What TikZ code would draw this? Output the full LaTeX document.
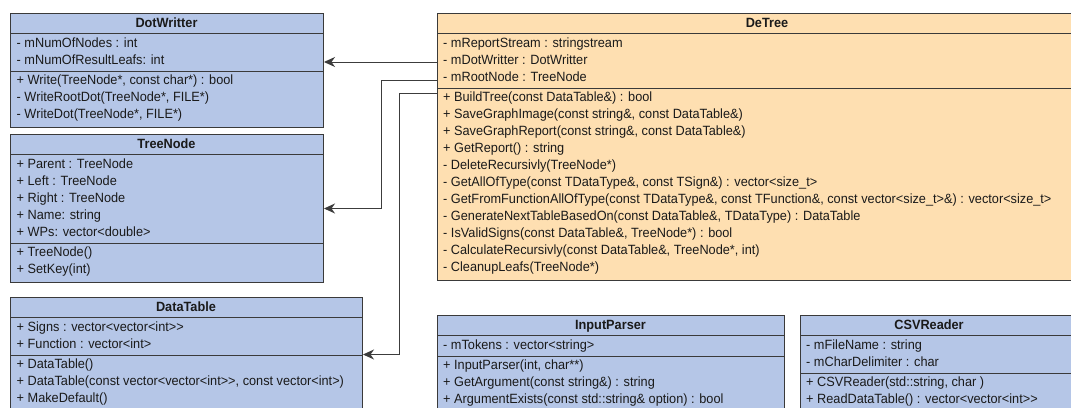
\documentclass[tikz,border=0pt]{standalone}
\usepackage{fontspec}
\setmainfont[FakeStretch=0.95]{Liberation Sans}
\usetikzlibrary{arrows.meta}
\definecolor{clsblue}{HTML}{B5C6E7}
\definecolor{clsorange}{HTML}{FEDFB1}
\definecolor{edge}{HTML}{3A3A3A}
\definecolor{txt}{HTML}{1A1A1A}
\definecolor{conn}{HTML}{3C3C3C}
\tikzset{
  box/.style={draw=edge, line width=1pt, rectangle, inner sep=0pt, anchor=north west},
  bluebox/.style={box, fill=clsblue},
  orangebox/.style={box, fill=clsorange},
  sepline/.style={draw=edge, line width=1pt},
  ttl/.style={inner sep=0pt, anchor=base, text=txt, font=\fontsize{13.4}{16}\selectfont\bfseries},
  row/.style={inner sep=0pt, anchor=base west, text=txt, font=\fontsize{13.4}{16}\selectfont},
  assoc/.style={draw=conn, line width=1pt, -{Stealth[length=11pt,width=10pt,inset=3.5pt]}}
}
\begin{document}
\begin{tikzpicture}[x=1pt,y=-1pt]
\useasboundingbox (0,0) rectangle (1071,407);
\clip (0,0) rectangle (1071,407);
\fill[white] (0,0) rectangle (1071,407);

% ---------- DotWritter ----------
\node[bluebox, minimum width=313pt, minimum height=114pt] (dotw) at (10,13) {};
\draw[sepline] (10,33) -- (323,33);
\draw[sepline] (10,71) -- (323,71);
\node[ttl] (dotwT) at (166.5,27.8) {DotWritter};
\node[row] (dwA1) at (16.5,47.8) {- mNumOfNodes : int};
\node[row] (dwA2) at (16.5,64.8) {- mNumOfResultLeafs: int};
\node[row] (dwM1) at (16.5,84.8) {+ Write(TreeNode*, const char*) : bool};
\node[row] (dwM2) at (16.5,101.8) {- WriteRootDot(TreeNode*, FILE*)};
\node[row] (dwM3) at (16.5,118.8) {- WriteDot(TreeNode*, FILE*)};

% ---------- TreeNode ----------
\node[bluebox, minimum width=313pt, minimum height=148pt] (tnode) at (10,134) {};
\draw[sepline] (10,154) -- (323,154);
\draw[sepline] (10,243) -- (323,243);
\node[ttl] (tnodeT) at (166.5,148.8) {TreeNode};
\node[row] (tnA1) at (16.5,168.8) {+ Parent : TreeNode};
\node[row] (tnA2) at (16.5,185.8) {+ Left : TreeNode};
\node[row] (tnA3) at (16.5,202.8) {+ Right : TreeNode};
\node[row] (tnA4) at (16.5,219.8) {+ Name: string};
\node[row] (tnA5) at (16.5,236.8) {+ WPs: vector<double>};
\node[row] (tnM1) at (16.5,256.8) {+ TreeNode()};
\node[row] (tnM2) at (16.5,273.8) {+ SetKey(int)};

% ---------- DataTable ----------
\node[bluebox, minimum width=352pt, minimum height=114pt] (dtab) at (10,297) {};
\draw[sepline] (10,317) -- (362,317);
\draw[sepline] (10,355) -- (362,355);
\node[ttl] (dtabT) at (186,311.8) {DataTable};
\node[row] (dbA1) at (16.5,331.8) {+ Signs : vector<vector<int>{}>};
\node[row] (dbA2) at (16.5,348.8) {+ Function : vector<int>};
\node[row] (dbM1) at (16.5,368.8) {+ DataTable()};
\node[row] (dbM2) at (16.5,385.8) {+ DataTable(const vector<vector<int>{}>, const vector<int>)};
\node[row] (dbM3) at (16.5,402.8) {+ MakeDefault()};

% ---------- DeTree ----------
\node[orangebox, minimum width=660pt, minimum height=267pt] (detree) at (437,13) {};
\draw[sepline] (437,33) -- (1097,33);
\draw[sepline] (437,88) -- (1097,88);
\node[ttl] (detreeT) at (767,27.8) {DeTree};
\node[row] (deA1) at (443,47.8) {- mReportStream : stringstream};
\node[row] (deA2) at (443,64.8) {- mDotWritter : DotWritter};
\node[row] (deA3) at (443,81.8) {- mRootNode : TreeNode};
\node[row] (deM1) at (443,101.8) {+ BuildTree(const DataTable\&) : bool};
\node[row] (deM2) at (443,118.8) {+ SaveGraphImage(const string\&, const DataTable\&)};
\node[row] (deM3) at (443,135.8) {+ SaveGraphReport(const string\&, const DataTable\&)};
\node[row] (deM4) at (443,152.8) {+ GetReport() : string};
\node[row] (deM5) at (443,169.8) {- DeleteRecursivly(TreeNode*)};
\node[row] (deM6) at (443,186.8) {- GetAllOfType(const TDataType\&, const TSign\&) : vector<size\_t>};
\node[row] (deM7) at (443,203.8) {- GetFromFunctionAllOfType(const TDataType\&, const TFunction\&, const vector<size\_t>\&) : vector<size\_t>};
\node[row] (deM8) at (443,220.8) {- GenerateNextTableBasedOn(const DataTable\&, TDataType) : DataTable};
\node[row] (deM9) at (443,237.8) {- IsValidSigns(const DataTable\&, TreeNode*) : bool};
\node[row] (deM10) at (443,254.8) {- CalculateRecursivly(const DataTable\&, TreeNode*, int)};
\node[row] (deM11) at (443,271.8) {- CleanupLeafs(TreeNode*)};

% ---------- InputParser ----------
\node[bluebox, minimum width=347pt, minimum height=97pt] (iparser) at (437,315) {};
\draw[sepline] (437,335) -- (784,335);
\draw[sepline] (437,356) -- (784,356);
\node[ttl] (iparserT) at (610.5,329.8) {InputParser};
\node[row] (ipA1) at (443,349.8) {- mTokens : vector<string>};
\node[row] (ipM1) at (443,369.8) {+ InputParser(int, char**)};
\node[row] (ipM2) at (443,386.8) {+ GetArgument(const string\&) : string};
\node[row] (ipM3) at (443,403.8) {+ ArgumentExists(const std::string\& option) : bool};

% ---------- CSVReader ----------
\node[bluebox, minimum width=310pt, minimum height=97pt] (csv) at (800,315) {};
\draw[sepline] (800,335) -- (1110,335);
\draw[sepline] (800,373) -- (1110,373);
\node[ttl] (csvT) at (929,329.8) {CSVReader};
\node[row] (csA1) at (806,349.8) {- mFileName : string};
\node[row] (csA2) at (806,366.8) {- mCharDelimiter : char};
\node[row] (csM1) at (806,386.8) {+ CSVReader(std::string, char )};
\node[row] (csM2) at (806,403.8) {+ ReadDataTable() : vector<vector<int>{}>};

% ---------- connectors ----------
\coordinate (pDot) at (437,62);
\coordinate (pRoot) at (437,80);
\coordinate (pTable) at (437,93);
\coordinate (bendRoot) at (381,80);
\coordinate (bendTable) at (399,93);
\draw[assoc] (pDot) -- (dotw.east |- pDot);
\draw[assoc] (pRoot) -- (bendRoot) |- (tnode.east);
\draw[assoc] (pTable) -- (bendTable) |- (dtab.east);
\end{tikzpicture}
\end{document}
